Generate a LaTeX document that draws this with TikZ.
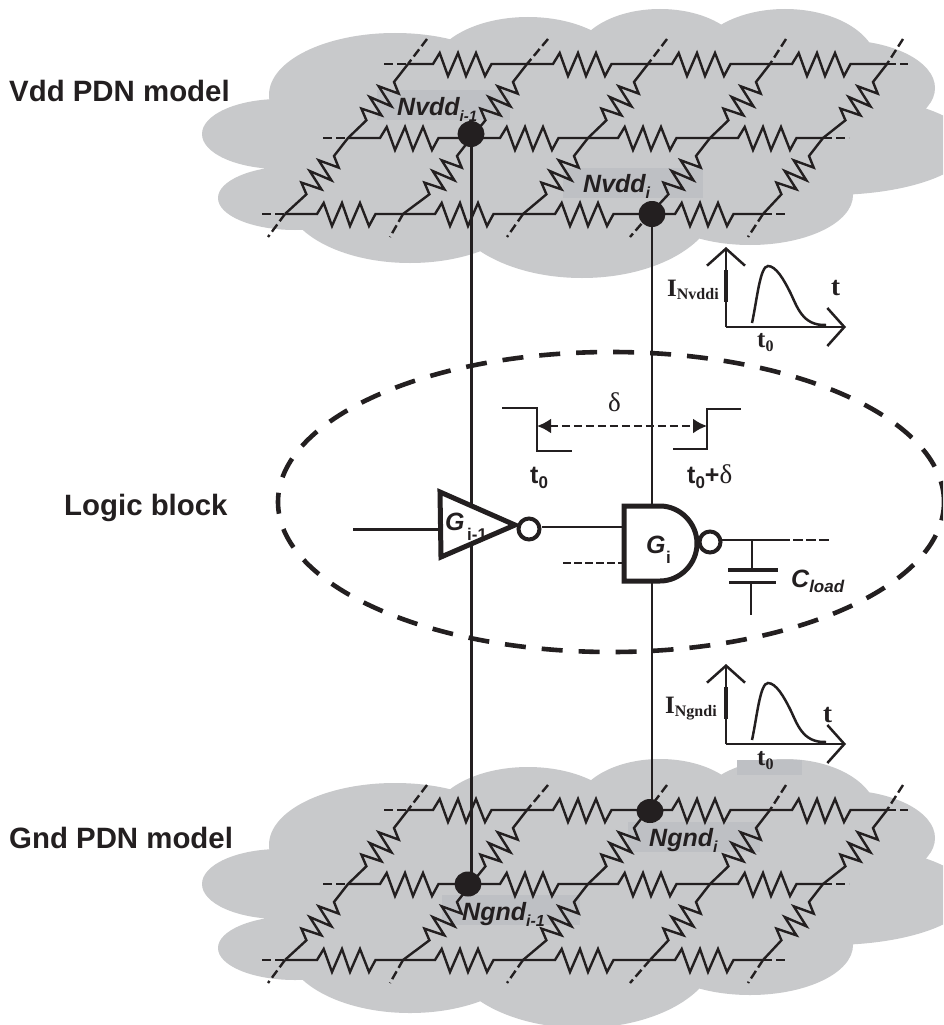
\documentclass[tikz,border=0pt]{standalone}
\usepackage{fontspec}
\setmainfont{Liberation Sans}
\newfontfamily\serf{Liberation Serif}
\usetikzlibrary{arrows.meta,shapes.geometric}
\definecolor{cloudgrey}{HTML}{C8C9CB}
\definecolor{tagrey}{HTML}{BEC0C4}
\definecolor{ink}{HTML}{231F20}
\newcommand{\fs}[1]{\fontsize{#1}{#1}\selectfont}
\newcommand{\low}[3]{\raisebox{-#1pt}{\fs{#2}#3}}
% zig-zag bodies of the resistors (relative moves)
\newcommand{\hzig}{-- ++(6.7,-11) -- ++(8.3,23) -- ++(10,-23) -- ++(8,23) -- ++(10,-23) -- ++(9,23) -- ++(6.5,-12)}
\newcommand{\dzig}{-- ++(4.7,11.6) -- ++(-20,-7.3) -- ++(12.7,20) -- ++(-21.7,-9.3) -- ++(11.7,18.3) -- ++(-20,-6.7) -- ++(5,11.7)}
\newcommand{\cloudshape}{%
  \fill[cloudgrey]
    (280,134) ellipse [x radius=78pt,y radius=35pt]
    (295,198) ellipse [x radius=77pt,y radius=32pt]
    (395,95) ellipse [x radius=126pt,y radius=62pt]
    (528,72) ellipse [x radius=97pt,y radius=55pt]
    (660,60) ellipse [x radius=85pt,y radius=51pt]
    (785,65) ellipse [x radius=92pt,y radius=56pt]
    (840,88) ellipse [x radius=95pt,y radius=48pt]
    (830,145) ellipse [x radius=140pt,y radius=50pt]
    (750,195) ellipse [x radius=103pt,y radius=50pt]
    (582,200) ellipse [x radius=135pt,y radius=78pt]
    (410,195) ellipse [x radius=125pt,y radius=68pt]
    (560,130) ellipse [x radius=250pt,y radius=95pt];}
\newcommand{\pdngrid}{%
  \foreach \y/\lx/\rx/\first/\last/\cells in {
      64/384/908/408/887/{408/433/527,527/553/648,648/672/770,770/792/887},
      138/323/849/348/823/{348/380/471,471/500/588,588/618/710,710/738/823},
      214/262/786/285/763/{285/317/403,403/435/523,523/555/650,650/675/763}}{
    \draw[stub] (\lx,\y) -- (\first,\y);
    \draw[stub] (\last,\y) -- (\rx,\y);
    \foreach \xc/\xs/\xn in \cells
      \draw[wire] (\xc,\y) -- (\xs,\y) \hzig -- (\xn,\y);
  }
  \foreach \ta/\a/\b/\c/\eb in {427/408/348/285/268,548/527/471/403/390,667/648/588/523/507,786/770/710/650/630,903/887/823/763/748}{
    \draw[stub] (\ta,39) -- (\a,64);
    \draw[stub] (\c,214) -- (\eb,237);
    \draw[wire] (\a,64) -- ++(-14,18) \dzig -- (\b,138) -- ++(-14,18) \dzig -- (\c,214);
  }}
\tikzset{
  wire/.style={draw=ink,line width=2.4pt,line join=miter,line cap=butt},
  stub/.style={draw=ink,line width=2.4pt,dash pattern=on 9pt off 4pt},
  pad/.style={fill=tagrey},
  dotnode/.style={ellipse,fill=ink,draw=none,minimum width=27pt,minimum height=26pt,inner sep=0pt},
  bubble/.style={circle,draw=ink,fill=white,line width=4pt,minimum size=21pt,inner sep=0pt},
  gatepath/.style={draw=ink,fill=white,line width=5pt,line join=miter},
  txt/.style={inner sep=0pt,anchor=base west,text=ink},
  axis/.style={draw=ink,line width=2.5pt,-{Straight Barb[length=17pt,width=38pt,line width=2.5pt]}},
  curve/.style={draw=ink,line width=2.5pt},
  sig/.style={draw=ink,line width=2.5pt}
}
\begin{document}
\begin{tikzpicture}[x=1pt,y=-1pt]
\useasboundingbox (0,0) rectangle (943,1025);
\clip (0,0) rectangle (943,1025);
\fill[white] (0,0) rectangle (943,1025);

% clouds
\cloudshape
\begin{scope}[shift={(0,750)}]
\cloudshape
\end{scope}

% label backgrounds
\fill[pad] (377,90) rectangle (510,120);
\fill[pad] (563,168) rectangle (703,198);
\fill[pad] (442,895) rectangle (580,925);
\fill[pad] (628,822) rectangle (760,852);
\fill[pad] (737,760) rectangle (802,775);

% grids
\pdngrid
\begin{scope}[shift={(0,746)}]
\pdngrid
\end{scope}

% nodes on the grids
\node[dotnode] (nvddp) at (471,134) {};
\node[dotnode] (nvddi) at (652,214) {};
\node[dotnode,minimum height=24pt] (ngndi) at (650,811) {};
\node[dotnode,minimum height=25pt] (ngndp) at (468,884) {};

% dashed logic block
\draw[draw=ink,line width=4.6pt,dash pattern=on 21pt off 16pt] (611,502) ellipse [x radius=333pt,y radius=150pt];

% supply rails
\draw[draw=ink,line width=3pt] (nvddp.center) -- (ngndp.center -| nvddp.center);
\draw[draw=ink,line width=2.5pt] (nvddi.center) -- (ngndi.center -| nvddi.center);

% inverter
\coordinate (invin) at (353,529);
\coordinate (invl) at (440,529);
\draw[sig,line width=3pt] (invin) -- (invl);
\path[gatepath] (440,492) -- (515,525) -- (441,557) -- cycle;
\node[bubble] (binv) at (529,529) {};

% nand gate
\coordinate (gin1) at (624,527);
\coordinate (gin2) at (624,563);
\coordinate (gout) at (780,540);
\coordinate (goutend) at (829,540);
\coordinate (dashin) at (563,563);
\draw[sig] (binv.east |- gin1) -- (gin1);
\draw[stub,line width=2.5pt,dash pattern=on 8pt off 3pt] (dashin) -- (gin2);
\path[gatepath] (624,506) -- (660,506) .. controls (680,506) and (697,523) .. (697,543.5) .. controls (697,564) and (680,581) .. (660,581) -- (624,581) -- cycle;
\coordinate (capa) at (752,540);
\draw[sig] (720,540) -- (gout);
\draw[stub,line width=2.5pt,dash pattern=on 10pt off 3pt] (gout) -- (goutend);
\node[bubble] (bgate) at (710,542) {};
\draw[sig] (capa) -- (752,570);
\draw[draw=ink,line width=3.5pt] (728,570) -- (778,570);
\draw[draw=ink,line width=3pt] (729,582) -- (776,582);
\draw[sig] (751,582) -- (751,615);

% edges and delay
\coordinate (edgea) at (537,426);
\coordinate (edgeb) at (707,426);
\draw[sig] (502,408) -- (537,408) -- (537,451) -- (572,451);
\draw[sig] (673,449) -- (707,449) -- (707,409) -- (741,409);
\draw[draw=ink,line width=2.5pt,dash pattern=on 8pt off 4pt,{Latex[length=14pt,width=15pt]}-{Latex[length=14pt,width=15pt]}] (edgea) -- (edgeb);

% current plots
\foreach \dy in {0,417}{
  \begin{scope}[shift={(0,\dy)}]
  \coordinate (orig) at (726,327);
  \draw[axis] (orig) -- (726,247);
  \draw[axis] (orig) -- (846,327);
  \draw[draw=ink,line width=4pt] (726,270) -- (726,302);
  \draw[curve] (752,323) .. controls (757,300) and (760,266) .. (768,266)
     .. controls (776,266) and (784,280) .. (790,292)
     .. controls (797,306) and (802,326) .. (826,325);
  \end{scope}
}

% texts
\node[txt,font=\fs{29.4}\bfseries] at (9,101) {Vdd PDN model};
\node[txt,font=\fs{29.4}\bfseries] at (64,515) {Logic block};
\node[txt,font=\fs{29.4}\bfseries] at (9,848) {Gnd PDN model};

\node[txt,font=\fs{25}\bfseries\itshape] at (397,115) {Nvdd\low{6}{15}{i-1}};
\node[txt,font=\fs{25}\bfseries\itshape] at (583,192) {Nvdd\low{6}{16}{i}};
\node[txt,font=\fs{25}\bfseries\itshape] at (462,920) {Ngnd\low{6}{16}{i-1}};
\node[txt,font=\fs{25}\bfseries\itshape] at (649,846) {Ngnd\low{6}{16}{i}};

\node[txt,font=\fs{25}\bfseries\itshape] at (445,530) {G};
\node[txt,font=\fs{17}\bfseries] at (467,540) {i-1};
\node[txt,font=\fs{25}\bfseries\itshape] at (646,553) {G};
\node[txt,font=\fs{17}\bfseries] at (666,563) {i};
\node[txt,font=\fs{25}\bfseries\itshape] at (791,587) {C\low{5}{17}{load}};

\node[txt,font=\fs{27}\serf] at (608,411) {δ};
\node[txt,font=\fs{25}\bfseries] at (530,483) {t\low{5}{17}{0}};
\node[txt,font=\fs{25}\bfseries] at (687,483) {t\low{5}{17}{0}+{\fs{27}\serf\mdseries δ}};

\node[txt,font=\fs{25}\serf\bfseries] at (667,296) {I\low{3}{16}{Nvddi}};
\node[txt,font=\fs{27}\serf\bfseries] at (831,295) {t};
\node[txt,font=\fs{25}\serf\bfseries] at (757,347) {t\low{4}{16}{0}};

\node[txt,font=\fs{25}\serf\bfseries] at (665,713) {I\low{3}{16}{Ngndi}};
\node[txt,font=\fs{27}\serf\bfseries] at (823,722) {t};
\node[txt,font=\fs{25}\serf\bfseries] at (757,765) {t\low{4}{16}{0}};
\end{tikzpicture}
\end{document}
